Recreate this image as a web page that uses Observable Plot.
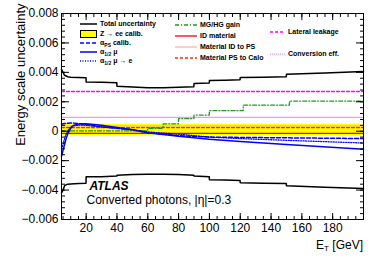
<!DOCTYPE html>
<html><head><meta charset="utf-8">
<script src="https://cdn.jsdelivr.net/npm/d3@7"></script>
<script src="https://cdn.jsdelivr.net/npm/@observablehq/plot@0.6"></script>
<style>
body{margin:0;background:#fff;}
#wrap{position:relative;width:383px;height:260px;font-family:"Liberation Sans",Arial,sans-serif;color:#000;}
.lt{position:absolute;font-size:7px;font-weight:bold;line-height:8px;white-space:nowrap;}
.lt sub{font-size:5px;vertical-align:-1.5px;line-height:0;}
.ls{position:absolute;}
#xt{position:absolute;right:20px;top:238px;font-size:12px;white-space:nowrap;}
#xt sub{font-size:8px;vertical-align:-2px;line-height:0;}
</style></head><body><div id="wrap"></div>
<script>
// ---- data ----
const etTotal = [4,5,6,8,10,15,19.9,20,30,39.9,40,50,60,70,80,89.9,90,99.9,100,110,119.9,120,135,149.9,150,175,200];
const totalUp = [0.0042,0.0040,0.0038,0.0037,0.00367,0.00365,0.00364,0.00335,0.00333,0.0033,0.00305,0.0030,0.00295,0.00295,0.00298,0.00302,0.00325,0.00328,0.00345,0.00347,0.0035,0.00365,0.00367,0.0037,0.00387,0.00396,0.00405];
const totalDown = [-0.0042,-0.0040,-0.0037,-0.0036,-0.00358,-0.00355,-0.00353,-0.0031,-0.0031,-0.00305,-0.0030,-0.00295,-0.00292,-0.00292,-0.00295,-0.0030,-0.00305,-0.0031,-0.0033,-0.00332,-0.00335,-0.0035,-0.00353,-0.00355,-0.0037,-0.0038,-0.0039];

const etBand = [4,200];
const zeeLow = [-0.0003,-0.0003];
const zeeHigh = [0.00048,0.00048];

const etAlpha = [4,5,6,7,8,10,12,16,20,30,40,50,60,80,100,120,150,200];
const alphaPS = [0.00048,0.0005,0.00052,0.00053,0.00054,0.00055,0.00055,0.0005,0.00045,0.0003,0.0002,0.0001,-0.0001,-0.0003,-0.0004,-0.00042,-0.00045,-0.0005];
const alpha12 = [-0.0017,-0.0013,-0.0009,-0.0005,-0.0002,0.0002,0.0004,0.0005,0.0005,0.0004,0.00025,0.0001,-0.0001,-0.00035,-0.00055,-0.0007,-0.0009,-0.00122];
const alpha12e = [-0.0012,-0.0009,-0.0005,-0.0002,0.0,0.0003,0.00038,0.00042,0.0004,0.0003,0.0002,0.0001,-0.00005,-0.0002,-0.0004,-0.0005,-0.00062,-0.0008];

const etGain = [4,59.9,60,69.9,70,79.9,80,89.9,90,99.9,100,121.9,122,151.9,152,200];
const gainMG = [0.00002,0.00002,0.0002,0.0002,0.0005,0.0005,0.00085,0.00085,0.0011,0.0011,0.0014,0.0014,0.00177,0.00177,0.00205,0.00205];

const etFlat = [4,200];
const idMaterial = [-0.00015,-0.00015];
const matIDtoPS = [0.00035,0.00035];
const matPStoCalo = [0.00025,0.00025];
const lateralLeak = [0.0027,0.0027];
const convEff = [0.00095,0.00095];

const yMajor = [-0.006,-0.004,-0.002,0,0.002,0.004,0.006,0.008];
const xMajor = [20,40,60,80,100,120,140,160,180];
const yMinor = d3.range(-0.006,0.0081,0.0004);
const xMinor = d3.range(5,201,5);

const legendLabels = [
  "Total uncertainty","Z → ee calib.","α<sub>PS</sub> calib.","α<sub>1/2</sub> μ","α<sub>1/2</sub> μ → e",
  "MG/HG gain","ID material","Material ID to PS","Material PS to Calo",
  "Lateral leakage","Conversion eff."
];

// ---- helpers ----
const tbl = (xs, ys) => xs.map((x,i)=>({x, y: ys[i]}));
const line = (xs, ys, o) => Plot.line(tbl(xs,ys), {x:"x", y:"y", ...o});

const styles = {
  total:{stroke:"#000", strokeWidth:1.5},
  aPS:{stroke:"#0000ff", strokeWidth:1.5, strokeDasharray:"4,2"},
  a12:{stroke:"#0000ff", strokeWidth:1.5},
  a12e:{stroke:"#0000ff", strokeWidth:1.3, strokeDasharray:"1,1.5"},
  gain:{stroke:"#1a9e1a", strokeWidth:1.3, strokeDasharray:"4,2,1,2"},
  idm:{stroke:"#ff0000", strokeWidth:1.3},
  idps:{stroke:"#ff9a9a", strokeWidth:1},
  pscalo:{stroke:"#ff2a00", strokeWidth:1.3, strokeDasharray:"3,2"},
  lat:{stroke:"#ff00ff", strokeWidth:1.3, strokeDasharray:"3,2"},
  conv:{stroke:"#f070f0", strokeWidth:1.1, strokeDasharray:"1,1"}
};

const fmt = d => d === 0 ? "0" : d3.format(".3f")(d);

const chart = Plot.plot({
  width:383, height:260,
  marginLeft:61, marginRight:20, marginTop:13, marginBottom:41,
  style:{fontFamily:"'Liberation Sans', Arial, sans-serif", color:"#000", background:"#fff"},
  x:{domain:[4,200]},
  y:{domain:[-0.006,0.008]},
  marks:[
    Plot.areaY(etBand.map((x,i)=>({x, lo:zeeLow[i], hi:zeeHigh[i]})), {x:"x", y1:"lo", y2:"hi", fill:"#ffff00"}),
    line(etFlat, matIDtoPS, styles.idps),
    line(etFlat, matPStoCalo, styles.pscalo),
    line(etFlat, idMaterial, styles.idm),
    line(etFlat, lateralLeak, styles.lat),
    line(etFlat, convEff, styles.conv),
    line(etGain, gainMG, styles.gain),
    line(etAlpha, alphaPS, styles.aPS),
    line(etAlpha, alpha12e, styles.a12e),
    line(etAlpha, alpha12, styles.a12),
    line(etTotal, totalUp, styles.total),
    line(etTotal, totalDown, styles.total),
    Plot.frame({stroke:"#000", strokeWidth:1}),
    // inward ticks
    Plot.axisY(yMajor, {anchor:"left", tickSize:8, dx:8, fill:"none", label:null}),
    Plot.axisY(yMinor, {anchor:"left", tickSize:4, dx:4, fill:"none", label:null}),
    Plot.axisY(yMajor, {anchor:"right", tickSize:8, dx:-8, fill:"none", label:null}),
    Plot.axisY(yMinor, {anchor:"right", tickSize:4, dx:-4, fill:"none", label:null}),
    Plot.axisX(xMajor, {anchor:"bottom", tickSize:6, dy:-6, fill:"none", label:null}),
    Plot.axisX(xMinor, {anchor:"bottom", tickSize:3, dy:-3, fill:"none", label:null}),
    Plot.axisX(xMajor, {anchor:"top", tickSize:6, dy:6, fill:"none", label:null}),
    Plot.axisX(xMinor, {anchor:"top", tickSize:3, dy:3, fill:"none", label:null}),
    // labels
    Plot.axisY(yMajor, {anchor:"left", tickSize:0, tickPadding:3, stroke:"none", tickFormat:fmt, fontSize:12, label:null}),
    Plot.axisX(xMajor, {anchor:"bottom", tickSize:0, tickPadding:4, stroke:"none", fontSize:12, label:null}),
    Plot.text(["Energy scale uncertainty"], {frameAnchor:"top-left", rotate:-90, textAnchor:"end", lineAnchor:"bottom", dx:-37, dy:-10, fontSize:13}),
    Plot.text(["ATLAS"], {frameAnchor:"bottom-left", textAnchor:"start", dx:28, dy:-29.5, fontSize:12, fontWeight:"bold", fontStyle:"italic"}),
    Plot.text(["Converted photons, |η|=0.3"], {frameAnchor:"bottom-left", textAnchor:"start", dx:25, dy:-15.5, fontSize:12})
  ]
});

const wrap = document.getElementById("wrap");
wrap.appendChild(chart);

// ---- legend (layout) ----
const legendPos = [
  [80,24,17],[80,33.5,17],[80,43,17],[80,52,17],[80,61,17],
  [175,25,22],[175,36,22],[175,47,22],[175,58,22],
  [270,32,15],[270,54,15]
];
const legendStyles = [styles.total,"band",styles.aPS,styles.a12,styles.a12e,styles.gain,styles.idm,styles.idps,styles.pscalo,styles.lat,styles.conv];
legendLabels.forEach((lab,i)=>{
  const [lx,ly,lw] = legendPos[i];
  const st = legendStyles[i];
  const svg = d3.create("svg").attr("class","ls").attr("width",lw+2).attr("height",10)
    .style("left",(lx-1)+"px").style("top",(ly-5)+"px");
  if (st === "band") {
    svg.append("rect").attr("x",1.5).attr("y",1.5).attr("width",lw-1).attr("height",7).attr("fill","#ffff00").attr("stroke","#000").attr("stroke-width",1);
  } else {
    svg.append("line").attr("x1",1).attr("x2",lw+1).attr("y1",5).attr("y2",5)
      .attr("stroke",st.stroke).attr("stroke-width",st.strokeWidth).attr("stroke-dasharray",st.strokeDasharray||null);
  }
  wrap.appendChild(svg.node());
  const t = document.createElement("div");
  t.className = "lt";
  t.innerHTML = lab;
  t.style.left = (lx + lw + 3) + "px";
  t.style.top = (ly - 4) + "px";
  wrap.appendChild(t);
});
const xt = document.createElement("div");
xt.id = "xt";
xt.innerHTML = "E<sub>T</sub> [GeV]";
wrap.appendChild(xt);
</script>
</body></html>
